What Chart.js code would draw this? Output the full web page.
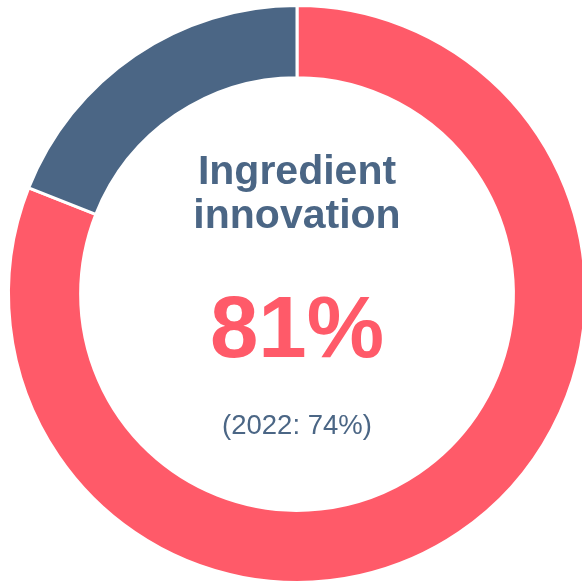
<!DOCTYPE html>
<html>
<head>
<meta charset="utf-8">
<script src="https://cdn.jsdelivr.net/npm/chart.js@4"></script>
<style>
  html, body { margin: 0; padding: 0; background: #fff; overflow: hidden; width: 582px; height: 581px; }
  #wrap { position: absolute; left: 0; top: -3px; width: 594px; height: 594px; }
  .t { position: absolute; left: 0; width: 594px; text-align: center; font-family: "Liberation Sans", Arial, sans-serif; white-space: nowrap; }
  #title { top: 151px; font-size: 41px; line-height: 44px; font-weight: bold; color: #4B6685; }
  #big { top: 286px; font-size: 87px; line-height: 87px; font-weight: bold; color: #FF5A69; }
  #prev { top: 414px; font-size: 27.5px; line-height: 27px; color: #4B6685; }
</style>
</head>
<body>
<div id="wrap"><canvas id="c"></canvas>
  <div class="t" id="title">Ingredient<br>innovation</div>
  <div class="t" id="big"></div>
  <div class="t" id="prev"></div>
</div>
<script>
const categories = ['Ingredient innovation', 'Other'];
const values = [81, 19];
const previousYear = '2022';
const previousValue = 74;
const colors = ['#FF5A69', '#4B6685'];

document.getElementById('big').textContent = values[0] + '%';
document.getElementById('prev').textContent = '(' + previousYear + ': ' + previousValue + '%)';

new Chart(document.getElementById('c'), {
  type: 'doughnut',
  data: {
    labels: categories,
    datasets: [{
      data: values,
      backgroundColor: colors,
      borderColor: '#ffffff',
      borderWidth: 3,
      hoverOffset: 0
    }]
  },
  options: {
    responsive: true,
    maintainAspectRatio: false,
    animation: false,
    cutout: '75%',
    layout: { padding: 7 },
    plugins: { legend: { display: false }, tooltip: { enabled: false } }
  }
});
</script>
</body>
</html>
